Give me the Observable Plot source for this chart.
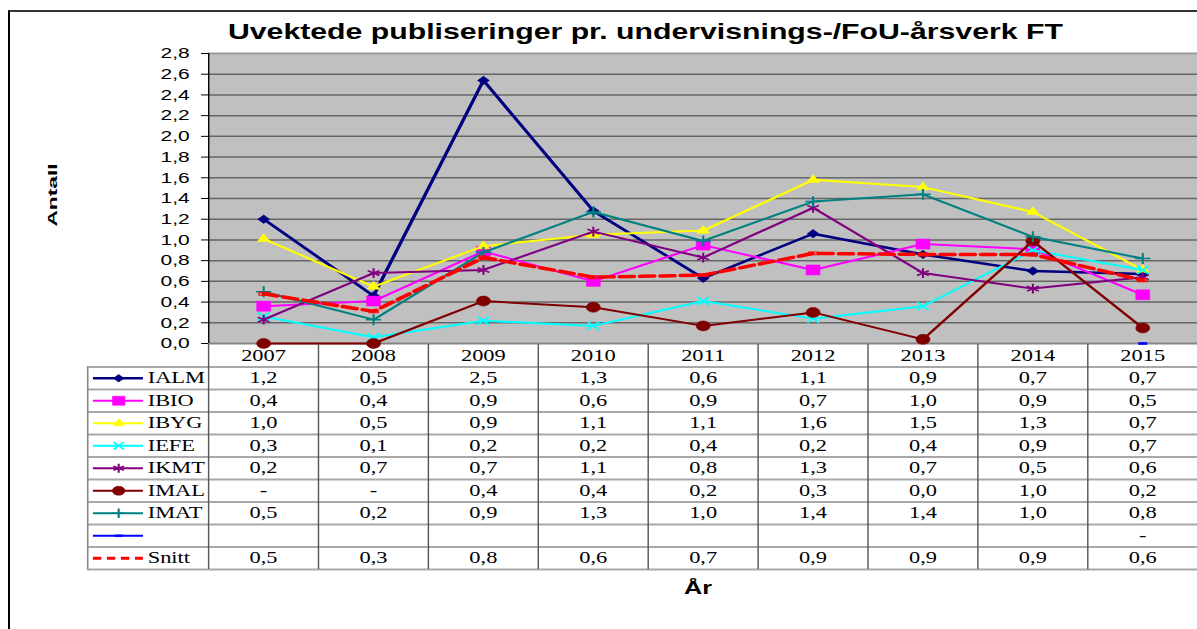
<!DOCTYPE html>
<html><head><meta charset="utf-8">
<script src="https://cdn.jsdelivr.net/npm/d3@7"></script>
<script src="https://cdn.jsdelivr.net/npm/@observablehq/plot@0.6"></script>
<style>
html,body{margin:0;padding:0;background:#fff;overflow:hidden;width:1197px;height:629px;}
#frame{position:absolute;left:8px;top:10px;width:1200px;height:630px;border-top:2px solid #333;border-left:2px solid #000;box-sizing:border-box;}
#wrap{position:absolute;left:0;top:0;width:855px;height:629px;transform:scaleX(1.4);transform-origin:0 0;}
#title{position:absolute;left:461px;top:20.5px;transform:translateX(-50%);white-space:nowrap;font:bold 21.6px/21.6px "Liberation Sans",Arial,sans-serif;color:#000;}
#chart{position:absolute;left:0;top:0;}
#table{position:absolute;left:0;top:344px;}
#xlabel{position:absolute;left:498.6px;top:579px;transform:translateX(-50%);font:bold 18px/18px "Liberation Sans",Arial,sans-serif;}
#ylabel{position:absolute;left:51.5px;top:195px;transform:translate(-50%,-50%) rotate(-90deg) scaleX(1.75);font:bold 13px/13px "Liberation Sans",Arial,sans-serif;white-space:nowrap;}
</style></head>
<body>
<div id="frame"></div>
<div id="wrap">
  <div id="title">Uvektede publiseringer pr. undervisnings-/FoU-årsverk FT</div>
  <div id="chart"></div>
  <div id="table"></div>
  <div id="xlabel">År</div>
</div>
<div id="ylabel">Antall</div>
<script>
// ---------- data ----------
const years = ["2007","2008","2009","2010","2011","2012","2013","2014","2015"];
const yTicks = [0,0.2,0.4,0.6,0.8,1.0,1.2,1.4,1.6,1.8,2.0,2.2,2.4,2.6,2.8];

const IALM  = [1.20, 0.46, 2.54, 1.28, 0.63, 1.06, 0.86, 0.70, 0.67];
const IBIO  = [0.36, 0.41, 0.89, 0.60, 0.95, 0.71, 0.96, 0.91, 0.47];
const IBYG  = [1.01, 0.55, 0.94, 1.05, 1.09, 1.58, 1.51, 1.27, 0.71];
const IEFE  = [0.26, 0.06, 0.22, 0.17, 0.41, 0.24, 0.36, 0.90, 0.71];
const IKMT  = [0.23, 0.68, 0.71, 1.08, 0.83, 1.31, 0.68, 0.53, 0.64];
const IMAL  = [0.00, 0.00, 0.41, 0.35, 0.17, 0.30, 0.04, 0.99, 0.15];
const IMAT  = [0.50, 0.23, 0.88, 1.27, 0.99, 1.37, 1.44, 1.03, 0.82];
const BLANK = [null, null, null, null, null, null, null, null, 0.00];
const SNITT = [0.48, 0.31, 0.83, 0.64, 0.66, 0.87, 0.86, 0.86, 0.61];

const tIALM  = ["1,2","0,5","2,5","1,3","0,6","1,1","0,9","0,7","0,7"];
const tIBIO  = ["0,4","0,4","0,9","0,6","0,9","0,7","1,0","0,9","0,5"];
const tIBYG  = ["1,0","0,5","0,9","1,1","1,1","1,6","1,5","1,3","0,7"];
const tIEFE  = ["0,3","0,1","0,2","0,2","0,4","0,2","0,4","0,9","0,7"];
const tIKMT  = ["0,2","0,7","0,7","1,1","0,8","1,3","0,7","0,5","0,6"];
const tIMAL  = ["-","-","0,4","0,4","0,2","0,3","0,0","1,0","0,2"];
const tIMAT  = ["0,5","0,2","0,9","1,3","1,0","1,4","1,4","1,0","0,8"];
const tBLANK = ["","","","","","","","","-"];
const tSNITT = ["0,5","0,3","0,8","0,6","0,7","0,9","0,9","0,9","0,6"];

const names  = ["IALM","IBIO","IBYG","IEFE","IKMT","IMAL","IMAT","","Snitt"];
const values = [IALM, IBIO, IBYG, IEFE, IKMT, IMAL, IMAT, BLANK, SNITT];
const texts  = [tIALM, tIBIO, tIBYG, tIEFE, tIKMT, tIMAL, tIMAT, tBLANK, tSNITT];

// ---------- styles ----------
const dashSym = {draw(ctx, size){ const r = Math.sqrt(size/Math.PI); ctx.rect(-r, -r/3, 2*r, 2*r/3); }};
const rectSym = {draw(ctx, size){ const r = Math.sqrt(size/Math.PI); ctx.rect(-r, -r/2.2, 2*r, r/1.1); }};
const styles = [
  {color:"#000080", symbol:"diamond2", r:3.8, w:2.5, fill:true},
  {color:"#FF00FF", symbol:"square",   r:5.6, w:2,   fill:true},
  {color:"#FFFF00", symbol:"triangle", r:3.4, w:2,   fill:true},
  {color:"#00FFFF", symbol:"times",    r:3.8, w:2,   fill:false},
  {color:"#800080", symbol:"asterisk", r:4.6, w:2,   fill:false},
  {color:"#800000", symbol:"circle",   r:5,   w:2,   fill:true},
  {color:"#008080", symbol:"plus",     r:3.6, w:2,   fill:false},
  {color:"#0000FF", symbol:dashSym,    r:3,   w:2,   fill:true},
  {color:"#FF0000", symbol:rectSym,    r:3.2, w:3.5, fill:false, dash:"10,4.5"}
];
const fmt = d => d.toFixed(1).replace(".", ",");

// ---------- chart ----------
const chartMarks = [
  Plot.rect([0], {x1: 0, x2: 9, y1: 0, y2: 2.8, fill: "#c0c0c0"}),
  Plot.ruleY(yTicks.filter(v => v > 0 && v < 2.8), {stroke: "#666", strokeWidth: 1.5}),
  Plot.ruleY([2.8], {stroke: "#9a9a9a", strokeWidth: 2}),
  Plot.ruleY([0], {stroke: "#858585", strokeWidth: 2}),
  Plot.ruleX([0], {stroke: "#000", strokeWidth: 1}),
  Plot.axisY({ticks: yTicks, tickFormat: fmt, tickSize: 5, tickPadding: 8.6, fontSize: 15, label: null, stroke: "#000", color: "#000"})
];
values.forEach((vals, k) => {
  const s = styles[k];
  const pts = vals.map((v, i) => ({i, v})).filter(d => d.v != null);
  chartMarks.push(Plot.line(pts, {x: d => d.i + 0.5, y: "v", stroke: s.color, strokeWidth: s.w, strokeDasharray: s.dash, strokeLinejoin: "miter"}));
  chartMarks.push(Plot.dot(pts, {x: d => d.i + 0.5, y: "v", symbol: s.symbol, r: s.r,
    fill: s.fill ? s.color : "none", stroke: s.color, strokeWidth: s.fill ? 0.5 : (k === 8 ? 1 : 1.5)}));
});
const chart = Plot.plot({
  width: 855, height: 344,
  marginLeft: 148.6, marginRight: 0, marginTop: 53, marginBottom: 1,
  style: {background: "transparent", fontFamily: "Liberation Sans, Arial, sans-serif", color: "#000", overflow: "visible"},
  x: {domain: [0, 9], axis: null},
  y: {domain: [0, 2.8], axis: null},
  marks: chartMarks
});
document.getElementById("chart").appendChild(chart);

// ---------- data table ----------
const serif = "Liberation Serif, Times New Roman, serif";
const tableMarks = [
  Plot.ruleY(d3.range(1, 11), {x1: -1.1, x2: 9, stroke: "#a8a8a8", strokeWidth: 2}),
  Plot.ruleX(d3.range(0, 10), {y1: 0, y2: 10, stroke: "#555", strokeWidth: 1}),
  Plot.ruleX([-1.1], {y1: 1, y2: 10, stroke: "#8a8a8a", strokeWidth: 1.2}),
  Plot.text(years, {x: (d, i) => i + 0.5, y: () => 0.5, text: d => d, fontFamily: serif, fontSize: 16, fill: "#000"})
];
texts.forEach((row, k) => {
  const s = styles[k];
  const yc = k + 1.5;
  tableMarks.push(Plot.text(row.map((t, i) => ({i, t})), {x: d => d.i + 0.5, y: () => yc, text: "t", fontFamily: serif, fontSize: 16, fill: "#000"}));
  tableMarks.push(Plot.ruleY([yc], {x1: -1.046, x2: -0.591, stroke: s.color, strokeWidth: Math.min(s.w, 3), strokeDasharray: s.dash ? "6,4" : null}));
  if (k !== 8) {
    tableMarks.push(Plot.dot([yc], {x: () => -0.818, y: d => d, symbol: s.symbol, r: s.r * 0.9,
      fill: s.fill ? s.color : "none", stroke: s.color, strokeWidth: s.fill ? 0.5 : 1.5}));
  }
  tableMarks.push(Plot.text([names[k]], {x: () => -0.554, y: () => yc, text: d => d, textAnchor: "start", fontFamily: serif, fontSize: 16, fill: "#000"}));
});
const table = Plot.plot({
  width: 855, height: 285,
  marginLeft: 62.14, marginRight: 0, marginTop: 0, marginBottom: 60,
  style: {background: "transparent", overflow: "visible"},
  x: {domain: [-1.1, 9], axis: null},
  y: {domain: [10, 0], axis: null},
  marks: tableMarks
});
document.getElementById("table").appendChild(table);
</script>
</body></html>
